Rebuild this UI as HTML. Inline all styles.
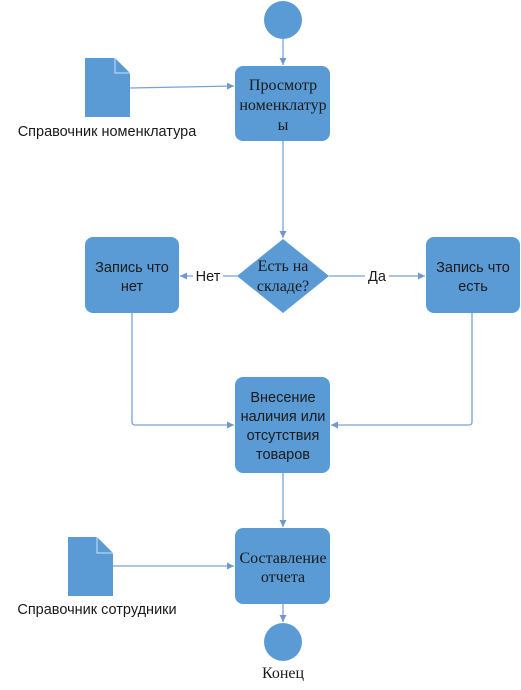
<!DOCTYPE html>
<html><head><meta charset="utf-8"><style>
html,body{margin:0;padding:0;background:#fff;width:521px;height:690px;overflow:hidden}
svg text{font-family:"Liberation Sans","DejaVu Sans",sans-serif;font-size:14.5px;fill:#1a1a1a}
svg text.s{font-family:"Liberation Serif","DejaVu Serif",serif;font-size:16px}
</style></head><body>
<svg width="521" height="690" viewBox="0 0 521 690" xmlns="http://www.w3.org/2000/svg">
<defs><marker id="a" markerWidth="8" markerHeight="8" refX="7" refY="4" orient="auto" markerUnits="userSpaceOnUse"><path d="M0,0.5 L7,4 L0,7.5 Z" fill="#6f99cc"/></marker></defs>
<g stroke="#7aa2d2" stroke-width="1.3" fill="none">
<line x1="283" y1="39" x2="283" y2="65" marker-end="url(#a)"/>
<line x1="130" y1="88" x2="234" y2="86" marker-end="url(#a)"/>
<line x1="283" y1="141" x2="283" y2="238" marker-end="url(#a)"/>
<line x1="237" y1="276" x2="180" y2="276" marker-end="url(#a)"/>
<line x1="329" y1="276" x2="425" y2="276" marker-end="url(#a)"/>
<path d="M132,313 V422 Q132,425 135,425 H234" marker-end="url(#a)"/>
<path d="M472,313 V422 Q472,425 469,425 H331" marker-end="url(#a)"/>
<line x1="283" y1="473" x2="283" y2="527" marker-end="url(#a)"/>
<line x1="113" y1="566" x2="234" y2="566" marker-end="url(#a)"/>
<line x1="283" y1="604" x2="283" y2="622" marker-end="url(#a)"/>
</g>
<g fill="#5b9bd5">
<circle cx="283" cy="20" r="19"/>
<rect x="235" y="66" width="95" height="75" rx="8"/>
<path d="M85,58 H115 L130,73 V117 H85 Z"/>
<path d="M237,276 L283,239 L329,276 L283,313 Z"/>
<rect x="85" y="237" width="94" height="76" rx="8"/>
<rect x="426" y="237" width="94" height="76" rx="8"/>
<rect x="235" y="377" width="95" height="96" rx="8"/>
<rect x="235" y="528" width="95" height="76" rx="8"/>
<path d="M68,537 H97 L113,553 V596 H68 Z"/>
<circle cx="283" cy="642" r="19"/>
</g>
<g stroke="#cfe0f2" stroke-width="1" fill="none">
<path d="M115,58 V73 H130"/>
<path d="M97,537 V553 H113"/>
</g>
<g text-anchor="middle">
<text class="s" x="283" y="90">Просмотр</text>
<text class="s" x="283" y="110">номенклатур</text>
<text class="s" x="283" y="130">ы</text>
<text x="107" y="136">Справочник номенклатура</text>
<text x="132" y="272">Запись что</text>
<text x="132" y="291">нет</text>
<text x="473" y="272">Запись что</text>
<text x="473" y="291">есть</text>
<text class="s" x="283" y="271">Есть на</text>
<text class="s" x="283" y="291">складе?</text>
<text x="283" y="402">Внесение</text>
<text x="283" y="421">наличия или</text>
<text x="283" y="440">отсутствия</text>
<text x="283" y="459">товаров</text>
<text class="s" x="283" y="563">Составление</text>
<text class="s" x="283" y="582">отчета</text>
<text x="97" y="614">Справочник сотрудники</text>
<text class="s" x="283" y="678">Конец</text>
</g>
<rect x="193" y="267" width="30" height="16" fill="#fff"/>
<text x="208" y="281" text-anchor="middle">Нет</text>
<rect x="365" y="267" width="24" height="16" fill="#fff"/>
<text x="377" y="281" text-anchor="middle">Да</text>
</svg>
</body></html>
